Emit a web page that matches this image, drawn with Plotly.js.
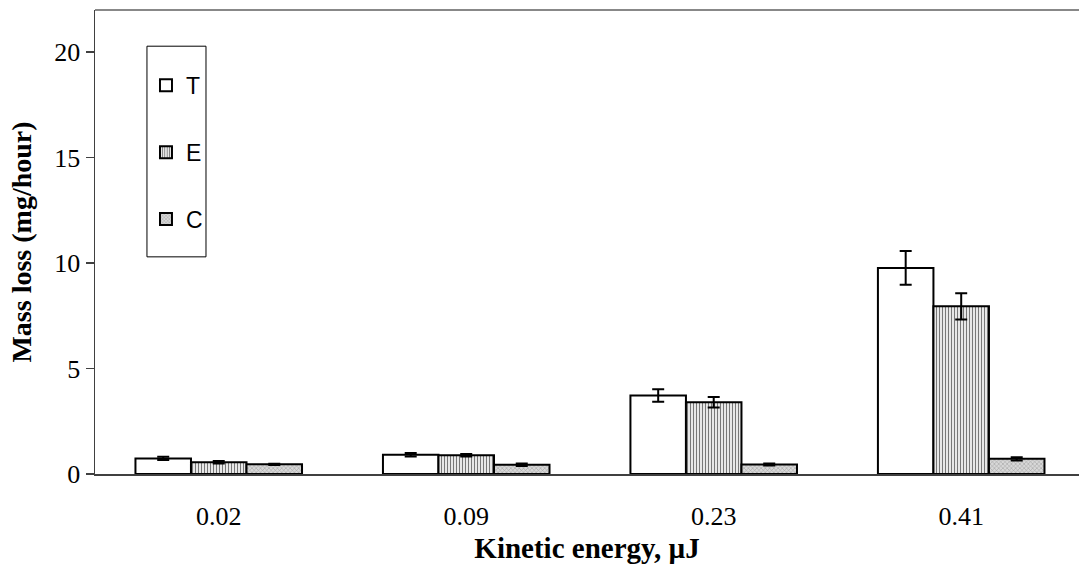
<!DOCTYPE html>
<html>
<head>
<meta charset="utf-8">
<script src="https://cdn.plot.ly/plotly-3.0.1.min.js"></script>
<style>html,body{margin:0;padding:0;background:#fff;}</style>
</head>
<body>
<div id="chart" style="width:1079px;height:564px;"></div>
<script>
var categories = ["0.02", "0.09", "0.23", "0.41"];
var seriesNames = ["T", "E", "C"];
var valuesT = [0.74, 0.91, 3.72, 9.77];
var errorsT = [0.08, 0.08, 0.30, 0.80];
var valuesE = [0.56, 0.89, 3.40, 7.95];
var errorsE = [0.06, 0.06, 0.25, 0.62];
var valuesC = [0.46, 0.44, 0.45, 0.72];
var errorsC = [0.03, 0.06, 0.05, 0.08];
var yTicks = [0, 5, 10, 15, 20];

var serif = "'Liberation Serif', 'Times New Roman', serif";
var sans = "'Liberation Sans', Arial, sans-serif";

function mk(name, vals, errs, marker, group) {
  return {
    type: "bar", name: name, x: categories, y: vals,
    legendgroup: group,
    marker: marker,
    error_y: {type: "data", array: errs, visible: true, color: "#000", thickness: 2, width: 6},
    hoverinfo: "y"
  };
}

var traces = [
  mk(seriesNames[0], valuesT, errorsT, {color: "#ffffff", line: {color: "#000", width: 2}}, "g1"),
  mk(seriesNames[1], valuesE, errorsE, {color: "#ffffff", line: {color: "#000", width: 2},
     pattern: {shape: "|", fgcolor: "#777777", bgcolor: "#ffffff", size: 3, solidity: 0.45}}, "g2"),
  mk(seriesNames[2], valuesC, errorsC, {color: "#cccccc", line: {color: "#000", width: 2},
     pattern: {shape: "x", fgcolor: "#999999", bgcolor: "#d8d8d8", size: 3, solidity: 0.3}}, "g3")
];

var layout = {
  width: 1079, height: 564,
  margin: {l: 95, r: 0, t: 10, b: 90},
  paper_bgcolor: "#fff", plot_bgcolor: "#fff",
  barmode: "group", bargap: 0.327, bargroupgap: 0,
  showlegend: true,
  legend: {
    x: 0.0518, y: 0.884, xanchor: "left", yanchor: "top",
    bgcolor: "rgba(0,0,0,0)", borderwidth: 0,
    font: {family: sans, size: 23, color: "#000"},
    traceorder: "grouped", tracegroupgap: 34, itemwidth: 30
  },
  xaxis: {
    type: "category", range: [-0.5, 3.476],
    showline: true, linecolor: "#404040", linewidth: 1.5,
    ticks: "", showgrid: false, zeroline: false,
    ticklabelstandoff: 18,
    tickfont: {family: serif, size: 26, color: "#000"},
    title: {text: "<b>Kinetic energy, µJ</b>", font: {family: serif, size: 29, color: "#000"}, standoff: 14}
  },
  yaxis: {
    range: [0, 22], tickvals: yTicks, ticktext: yTicks.map(String),
    showline: true, linecolor: "#404040", linewidth: 1.5,
    ticks: "outside", ticklen: 8, tickcolor: "#404040", tickwidth: 1.5,
    showgrid: false, zeroline: false,
    tickfont: {family: serif, size: 26, color: "#000"},
    title: {text: "<b>Mass loss (mg/hour)</b>", font: {family: serif, size: 28, color: "#000"}, standoff: 14}
  },
  shapes: [
    {type: "line", xref: "paper", yref: "paper", x0: 0, x1: 1, y0: 1, y1: 1,
     line: {color: "#888888", width: 2}},
    {type: "rect", xref: "paper", yref: "paper", x0: 0.0528, x1: 0.1128, y0: 0.468, y1: 0.922,
     line: {color: "#000", width: 1}, fillcolor: "rgba(0,0,0,0)"}
  ]
};

Plotly.newPlot("chart", traces, layout, {displayModeBar: false, staticPlot: true});
</script>
</body>
</html>
